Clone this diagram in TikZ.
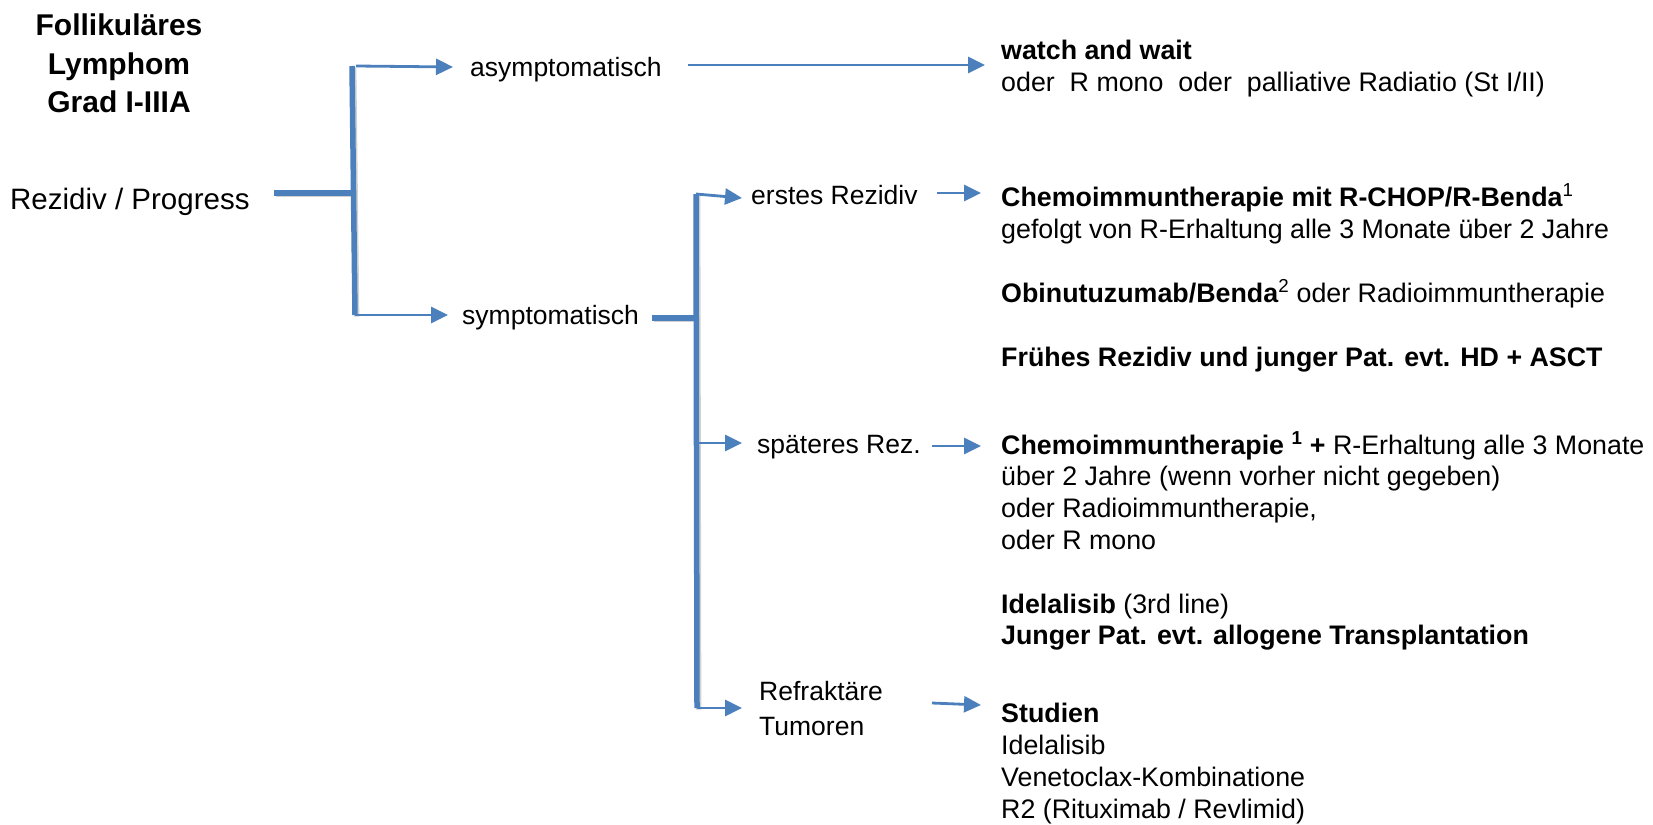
\documentclass[tikz,border=0pt]{standalone}
\usepackage{fontspec}
\setmainfont{Liberation Sans}
\usetikzlibrary{arrows.meta}
\definecolor{lb}{RGB}{76,128,188}
\begin{document}
\begin{tikzpicture}[x=1pt,y=-1pt,
  txt/.style={anchor=base west, inner sep=0pt, font=\fontsize{26.8}{32}\selectfont},
  mid/.style={anchor=base west, inner sep=0pt, font=\fontsize{26.5}{35}\selectfont},
  arr/.style={draw=lb, line width=2.8pt, -{Triangle[length=17pt,width=16pt]}},
  bar/.style={draw=lb, line width=5.5pt, line cap=butt,
    preaction={draw=black, opacity=0.18, line width=5.5pt, transform canvas={shift={(1.6pt,-1.6pt)}}}}
]
\useasboundingbox (0,0) rectangle (1653,824);

% titles and labels
\node[anchor=base, inner sep=0pt, font=\fontsize{30}{38.5}\selectfont\bfseries] (title) at (119,36)
  {\begin{tabular}[t]{@{}c@{}}Follikuläres\\Lymphom\\Grad I-IIIA\end{tabular}};
\node[anchor=base west, inner sep=0pt, font=\fontsize{29.5}{34}\selectfont] (rez) at (10,209) {Rezidiv / Progress};
\node[mid] (asym) at (470,77) {asymptomatisch};
\node[mid] (sym) at (462,324) {symptomatisch};
\node[mid] (erst) at (751,204) {erstes Rezidiv};
\node[mid] (spaet) at (757,453) {späteres Rez.};
\node[mid] (refr) at (759,700) {\begin{tabular}[t]{@{}l@{}}Refraktäre\\Tumoren\end{tabular}};

% right column
\node[txt] (b1) at (1001,60) {\begin{tabular}[t]{@{}l@{}}\textbf{watch and wait}\\oder\ \ R mono\ \ oder\ \ palliative Radiatio (St I/II)\end{tabular}};
\node[txt] (b2) at (1001,206) {\begin{tabular}[t]{@{}l@{}}\textbf{Chemoimmuntherapie mit R-CHOP/R-Benda}\textsuperscript{1}\\
gefolgt von R-Erhaltung alle 3 Monate über 2 Jahre\\
\\
\textbf{Obinutuzumab/Benda}\textsuperscript{2} oder Radioimmuntherapie\\
\\
\textbf{Frühes Rezidiv und junger Pat. evt. HD + ASCT}\end{tabular}};
\node[txt, font=\fontsize{26.8}{31.8}\selectfont] (b3) at (1001,454) {\begin{tabular}[t]{@{}l@{}}\textbf{Chemoimmuntherapie \textsuperscript{1} +} R-Erhaltung alle 3 Monate\\
über 2 Jahre (wenn vorher nicht gegeben)\\
oder Radioimmuntherapie,\\
oder R mono\\
\\
\textbf{Idelalisib} (3rd line)\\
\textbf{Junger Pat. evt. allogene Transplantation}\end{tabular}};
\node[txt, font=\fontsize{26.8}{32.2}\selectfont] (b4) at (1001,722) {\begin{tabular}[t]{@{}l@{}}\textbf{Studien}\\
Idelalisib\\
Venetoclax-Kombinatione\\
R2 (Rituximab / Revlimid)\end{tabular}};

% junction coordinates
\coordinate (r0) at (274,193);
\coordinate (j1) at (353,193);
\coordinate (v1t) at (352,66);
\coordinate (v1b) at (355,315);
\coordinate (s0) at (652,318);
\coordinate (j2) at (696,318);
\coordinate (v2t) at (696,194);
\coordinate (v2b) at (697,708);
% arrow tips
\coordinate (a1) at (453,67);
\coordinate (a2) at (448,315);
\coordinate (a3s) at (688,65);
\coordinate (a3) at (985,65);
\coordinate (a4) at (742,198);
\coordinate (a5) at (742,443);
\coordinate (a6) at (742,708);
\coordinate (a7s) at (937,193);
\coordinate (a7) at (981,193);
\coordinate (a8s) at (932,446);
\coordinate (a8) at (981,446);
\coordinate (a9s) at (932,703);
\coordinate (a9) at (981,705);

% thick bars
\draw[bar] (r0) -- (j1);
\draw[bar] (v1t) -- (v1b);
\draw[bar] (s0) -- (j2);
\draw[bar] (v2t) -- (v2b);

% arrows
\draw[arr] (356,66) -- (a1);
\draw[arr] (v1b) -- (a2);
\draw[arr] (a3s) -- (a3);
\draw[arr] (v2t) -- (a4);
\draw[arr] (697,443) -- (a5);
\draw[arr] (v2b) -- (a6);
\draw[arr] (a7s) -- (a7);
\draw[arr] (a8s) -- (a8);
\draw[arr] (a9s) -- (a9);
\end{tikzpicture}
\end{document}
